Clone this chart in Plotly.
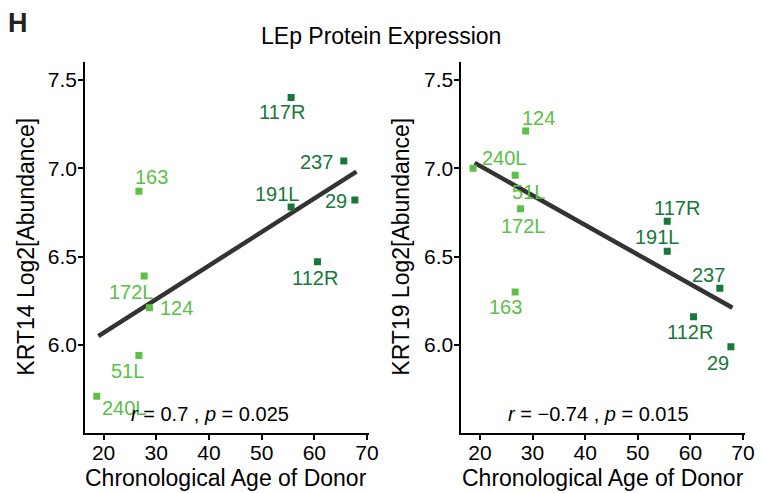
import plotly.graph_objects as go

# Donor samples, ages and keratin abundances (log2)
samples = ["240L", "163", "51L", "172L", "124", "117R", "191L", "112R", "237", "29"]
age = [18.7, 26.7, 26.7, 27.7, 28.7, 55.6, 55.6, 60.6, 65.6, 67.7]
group = ["young", "young", "young", "young", "young", "old", "old", "old", "old", "old"]
krt14 = [5.71, 6.87, 5.94, 6.39, 6.21, 7.40, 6.78, 6.47, 7.04, 6.82]
krt19 = [7.00, 6.30, 6.96, 6.77, 7.21, 6.70, 6.53, 6.16, 6.32, 5.99]

# linear trend lines (start/end of fitted line)
trend_age = [19, 68]
trend_krt14 = [6.05, 6.98]
trend_krt19 = [7.03, 6.21]

stats_krt14 = "<i>r</i> = 0.7 , <i>p</i> = 0.025"
stats_krt19 = "<i>r</i> = \u22120.74 , <i>p</i> = 0.015"

colors = {"young": "#5cbf48", "old": "#17783a"}
FONT = "Liberation Sans, Arial, Helvetica, sans-serif"

# label offsets in pixels (dx, dy; dy positive = upward)
offsets_left = {
    "240L": (28, -12), "163": (13, 14), "51L": (-11, -15), "172L": (-13, -16),
    "124": (27, 0), "117R": (-9, -15), "191L": (-14, 13), "112R": (-2, -16),
    "237": (-27, -1), "29": (-19, -1),
}
offsets_right = {
    "240L": (31, 10), "163": (-10, -15), "51L": (13, -17), "172L": (3, -17),
    "124": (13, 13), "117R": (10, 13), "191L": (-10, 14), "112R": (-4, -15),
    "237": (-11, 13), "29": (-13, -16),
}

fig = go.Figure()

panels = [
    ("x", "y", krt14, trend_krt14, offsets_left, stats_krt14),
    ("x2", "y2", krt19, trend_krt19, offsets_right, stats_krt19),
]

for xa, ya, vals, trend, offs, stat in panels:
    fig.add_trace(go.Scatter(
        x=trend_age, y=trend, mode="lines",
        line=dict(color="#333333", width=4.5), xaxis=xa, yaxis=ya,
        showlegend=False, hoverinfo="skip",
    ))
    fig.add_trace(go.Scatter(
        x=age, y=vals, mode="markers",
        marker=dict(symbol="square", size=7, color=[colors[g] for g in group]),
        xaxis=xa, yaxis=ya, showlegend=False, text=samples,
    ))
    for s, a, v, g in zip(samples, age, vals, group):
        dx, dy = offs[s]
        fig.add_annotation(
            x=a, y=v, xref=xa, yref=ya, text=s, showarrow=True,
            arrowcolor="rgba(0,0,0,0)", ax=dx, ay=-dy,
            font=dict(family=FONT, size=20, color=colors[g]),
        )
    fig.add_annotation(
        x=24.9, y=5.607, xref=xa, yref=ya, text=stat, showarrow=False,
        xanchor="left", yanchor="middle", font=dict(family=FONT, size=20, color="black"),
    )

axis_common = dict(
    showgrid=False, zeroline=False, showline=True, linecolor="black", linewidth=1.5,
    ticks="outside", ticklen=5, tickwidth=1.5, tickcolor="black",
    tickfont=dict(family=FONT, size=21, color="black"),
)
x_common = dict(range=[16.45, 70.4], tickvals=[20, 30, 40, 50, 60, 70], ticklabelstandoff=-5, **axis_common)
y_common = dict(domain=[0.1211, 0.874], range=[5.5, 7.6], tickvals=[6.0, 6.5, 7.0, 7.5], tickformat=".1f",
                ticklabelstandoff=-3, **axis_common)

fig.update_layout(
    width=764, height=493,
    margin=dict(l=0, r=0, t=0, b=0),
    paper_bgcolor="white", plot_bgcolor="white",
    xaxis=dict(domain=[0.1126, 0.4895], **x_common),
    yaxis=dict(**y_common),
    xaxis2=dict(domain=[0.6117, 0.9882], anchor="y2", **x_common),
    yaxis2=dict(anchor="x2", **y_common),
)

# axis titles
title_font = dict(family=FONT, size=23, color="black")
for xc in (229, 611):
    fig.add_annotation(x=xc / 764, y=1 - 478 / 493, xref="paper", yref="paper",
                       text="Chronological Age of Donor", showarrow=False,
                       xanchor="center", yanchor="middle", font=title_font)
for xc, txt in ((26, "KRT14 Log2[Abundance]"), (406, "KRT19 Log2[Abundance]")):
    fig.add_annotation(x=xc / 764, y=1 - 247 / 493, xref="paper", yref="paper",
                       text=txt, textangle=-90, showarrow=False,
                       xanchor="center", yanchor="middle", font=title_font)

fig.add_annotation(x=386 / 764, y=1 - 36 / 493, xref="paper", yref="paper", text="LEp Protein Expression",
                   showarrow=False, xanchor="center", yanchor="middle",
                   font=dict(family=FONT, size=23, color="black"))
fig.add_annotation(x=6 / 764, y=1 - 23 / 493, xref="paper", yref="paper", text="<b>H</b>",
                   showarrow=False, xanchor="left", yanchor="middle",
                   font=dict(family=FONT, size=27, color="#222222"))

fig.write_html("out.html")
